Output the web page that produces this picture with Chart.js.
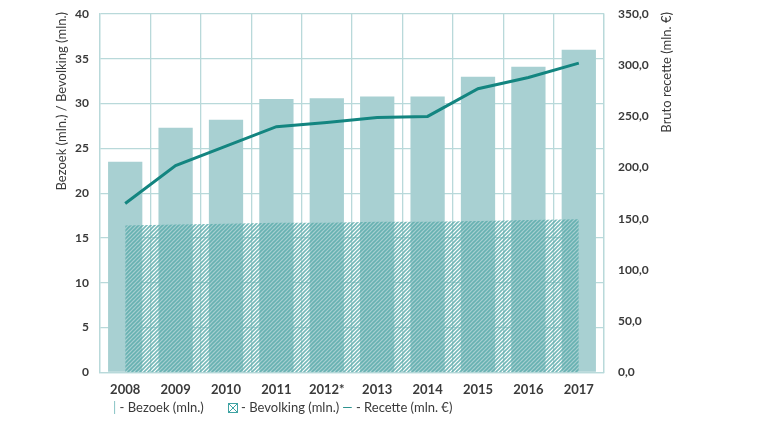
<!DOCTYPE html>
<html>
<head>
<meta charset="utf-8">
<script src="https://cdn.jsdelivr.net/npm/chart.js@4"></script>
<style>
  body { margin: 0; background: #fff; }
  #wrap { position: relative; width: 760px; height: 427px; }
  #legenda {
    position: absolute; left: 113px; top: 399px;
    font-family: Lato, "Open Sans", sans-serif; font-size: 13px; color: #3a3a3a;
    white-space: nowrap;
  }
  .mk { color: #7fbfc0; }
  .box {
    display: inline-block; width: 8px; height: 8px; border: 1px solid #3fa3a3;
    vertical-align: -1px; margin-left: 24px;
    background: linear-gradient(45deg, transparent 45%, #3fa3a3 45%, #3fa3a3 55%, transparent 55%),
                linear-gradient(-45deg, transparent 45%, #3fa3a3 45%, #3fa3a3 55%, transparent 55%);
  }
  .lijn { color: #138580; margin-left: 3px; }
</style>
</head>
<body>
<div id="wrap">
  <canvas id="grafiek" width="760" height="427"></canvas>
  <div id="legenda">
    <span class="mk">|</span> - Bezoek (mln.)<span class="box"></span> - Bevolking (mln.)<span class="lijn">—</span> - Recette (mln. €)
  </div>
</div>
<script>
// gegevens
const jaren = ['2008', '2009', '2010', '2011', '2012*', '2013', '2014', '2015', '2016', '2017'];
const bezoek = [23.5, 27.3, 28.2, 30.5, 30.6, 30.8, 30.8, 33.0, 34.1, 36.0];
const bevolking = [16.4, 16.5, 16.6, 16.7, 16.7, 16.8, 16.8, 16.9, 17.0, 17.1];
const recette = [165, 202, 221, 240, 244, 249, 250, 277, 288, 302];

const kleuren = {
  bar: '#a8d0d2',
  lijn: '#138580',
  grid: '#b9d9da',
  tekst: '#3a3a3a'
};

// arcering voor de bevolking
function maakArcering() {
  const c = document.createElement('canvas');
  c.width = 4; c.height = 4;
  const ctx = c.getContext('2d');
  ctx.strokeStyle = 'rgba(92,172,172,0.85)';
  ctx.lineWidth = 1.6;
  ctx.beginPath();
  ctx.moveTo(-1, 5); ctx.lineTo(5, -1);
  ctx.moveTo(-3, 3); ctx.lineTo(3, -3);
  ctx.moveTo(1, 7); ctx.lineTo(7, 1);
  ctx.stroke();
  return ctx.createPattern(c, 'repeat');
}

// as-titels, beide van onder naar boven gelezen
const asTitels = {
  id: 'asTitels',
  afterDraw(chart) {
    const ctx = chart.ctx;
    ctx.save();
    ctx.font = '13px Lato, "Open Sans", sans-serif';
    ctx.fillStyle = kleuren.tekst;
    ctx.textAlign = 'right';
    ctx.textBaseline = 'middle';
    [[62, 'Bezoek (mln.) / Bevolking (mln.)'], [667, 'Bruto recette (mln. €)']].forEach(([x, t]) => {
      ctx.save();
      ctx.translate(x, 12);
      ctx.rotate(-Math.PI / 2);
      ctx.fillText(t, 0, 0);
      ctx.restore();
    });
    ctx.restore();
  }
};

const tickFont = { family: 'Lato, "Open Sans", sans-serif', weight: 'bold', size: 12 };

// vaste breedte voor de y-assen, geen extra ruimte boven/onder
function vasteAs(breedte) {
  return s => { s.width = breedte; s.paddingTop = 0; s.paddingBottom = 0; };
}

new Chart(document.getElementById('grafiek').getContext('2d'), {
  data: {
    labels: jaren,
    datasets: [
      {
        type: 'line',
        label: 'Recette (mln. €)',
        data: recette,
        yAxisID: 'y2',
        borderColor: kleuren.lijn,
        borderWidth: 3,
        pointRadius: 0,
        tension: 0,
        fill: false,
        order: 1
      },
      {
        type: 'line',
        label: 'Bevolking (mln.)',
        data: bevolking,
        yAxisID: 'y',
        backgroundColor: maakArcering(),
        borderWidth: 0,
        pointRadius: 0,
        tension: 0,
        fill: 'origin',
        order: 2
      },
      {
        type: 'bar',
        label: 'Bezoek (mln.)',
        data: bezoek,
        yAxisID: 'y',
        backgroundColor: kleuren.bar,
        categoryPercentage: 1,
        barPercentage: 0.68,
        order: 3
      }
    ]
  },
  options: {
    responsive: false,
    animation: false,
    layout: { autoPadding: false, padding: { top: 14, bottom: 19 } },
    plugins: { legend: { display: false }, tooltip: { enabled: false } },
    scales: {
      x: {
        offset: true,
        grid: { offset: true, color: kleuren.grid, lineWidth: 1.3, drawTicks: false },
        border: { color: kleuren.grid, width: 1.3 },
        ticks: { color: kleuren.tekst, font: { ...tickFont, size: 13 }, padding: 10, maxRotation: 0 }
      },
      y: {
        position: 'left',
        min: 0, max: 40,
        ticks: { stepSize: 5, color: kleuren.tekst, font: tickFont, padding: 11 },
        grid: { color: kleuren.grid, lineWidth: 1.3, drawTicks: false },
        border: { color: kleuren.grid, width: 1.3 },
        afterFit: vasteAs(100)
      },
      y2: {
        position: 'right',
        min: 0, max: 350,
        ticks: {
          stepSize: 50, color: kleuren.tekst, font: tickFont, padding: 14,
          callback: v => v.toFixed(1).replace('.', ',')
        },
        grid: { display: false, drawTicks: false },
        border: { color: kleuren.grid, width: 1.3 },
        afterFit: vasteAs(156)
      }
    }
  },
  plugins: [asTitels]
});
</script>
</body>
</html>
